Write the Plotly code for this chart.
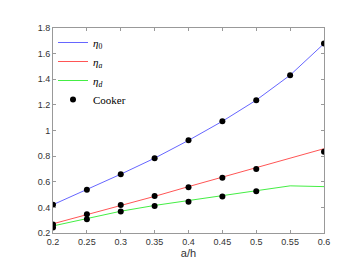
import plotly.graph_objects as go

x = [0.2, 0.25, 0.3, 0.35, 0.4, 0.45, 0.5, 0.55, 0.6]
eta0 = [0.421, 0.538, 0.659, 0.784, 0.923, 1.072, 1.237, 1.432, 1.678]
eta_a = [0.272, 0.342, 0.412, 0.486, 0.562, 0.636, 0.712, 0.786, 0.858]
eta_d = [0.255, 0.312, 0.370, 0.415, 0.455, 0.490, 0.530, 0.568, 0.562]

cooker_x0 = [0.2, 0.25, 0.3, 0.35, 0.4, 0.45, 0.5, 0.55, 0.6]
cooker_0 = [0.421, 0.537, 0.658, 0.784, 0.923, 1.072, 1.237, 1.431, 1.679]
cooker_xa = [0.2, 0.25, 0.3, 0.35, 0.4, 0.45, 0.5, 0.6]
cooker_a = [0.266, 0.347, 0.418, 0.488, 0.558, 0.631, 0.699, 0.835]
cooker_xd = [0.2, 0.25, 0.3, 0.35, 0.4, 0.45, 0.5]
cooker_d = [0.243, 0.307, 0.368, 0.410, 0.443, 0.485, 0.525]

xticks = [0.2, 0.25, 0.3, 0.35, 0.4, 0.45, 0.5, 0.55, 0.6]
xticklabels = ["0.2", "0.25", "0.3", "0.35", "0.4", "0.45", "0.5", "0.55", "0.6"]
yticks = [0.2, 0.4, 0.6, 0.8, 1.0, 1.2, 1.4, 1.6, 1.8]
yticklabels = ["0.2", "0.4", "0.6", "0.8", "1", "1.2", "1.4", "1.6", "1.8"]

fig = go.Figure()
fig.add_trace(go.Scatter(x=x, y=eta0, mode="lines", line=dict(color="#6666ff", width=1),
                         name="<i>η</i><sub>0</sub>"))
fig.add_trace(go.Scatter(x=x, y=eta_a, mode="lines", line=dict(color="#ff5555", width=1),
                         name="<i>η<sub>a</sub></i>"))
fig.add_trace(go.Scatter(x=x, y=eta_d, mode="lines", line=dict(color="#44ee44", width=1),
                         name="<i>η<sub>d</sub></i>"))
fig.add_trace(go.Scatter(x=cooker_x0 + cooker_xa + cooker_xd,
                         y=cooker_0 + cooker_a + cooker_d,
                         mode="markers", marker=dict(color="black", size=6),
                         name="Cooker"))

axis_common = dict(showline=True, linecolor="#999999", linewidth=1, mirror="ticks",
                   ticks="inside", ticklen=3, tickcolor="#999999", showgrid=False,
                   zeroline=False, tickfont=dict(family="Liberation Sans, Arial", size=9, color="#333333"))

fig.update_xaxes(range=[0.2, 0.6], tickvals=xticks, ticktext=xticklabels,
                 title=dict(text="a/h", font=dict(family="Liberation Sans, Arial", size=11, color="#333333"),
                            standoff=3),
                 **axis_common)
fig.update_yaxes(range=[0.2, 1.8], tickvals=yticks, ticktext=yticklabels, **axis_common)

fig.update_layout(
    width=349, height=261,
    margin=dict(l=45, r=33, t=20, b=30),
    paper_bgcolor="white", plot_bgcolor="white",
    showlegend=True,
    legend=dict(x=0.0, y=1.0, xanchor="left", yanchor="top", bgcolor="rgba(0,0,0,0)",
                font=dict(family="Liberation Serif, Times New Roman, serif", size=11, color="black"),
                tracegroupgap=0, itemwidth=30),
)

fig.write_html("out.html")
